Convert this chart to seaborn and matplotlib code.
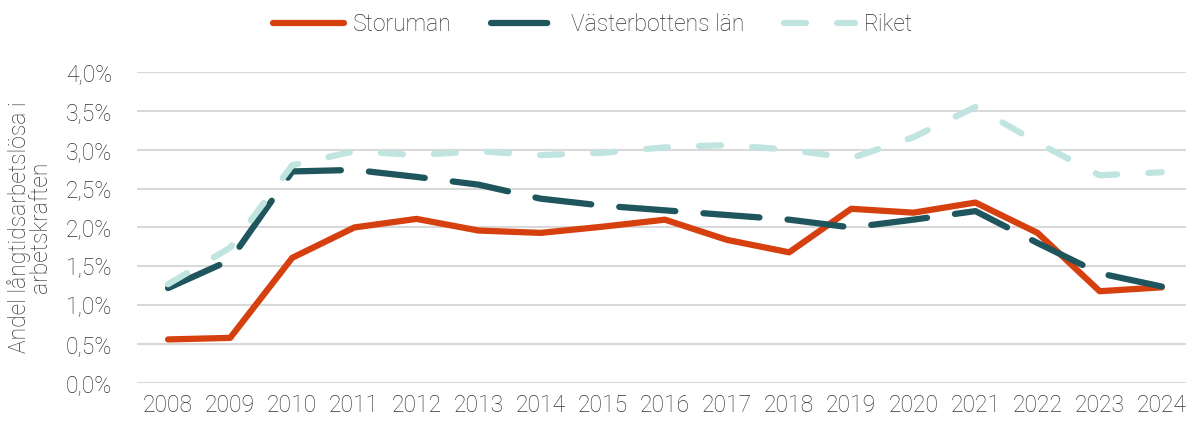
import pandas as pd
import seaborn as sns
import matplotlib.pyplot as plt
from matplotlib.ticker import FuncFormatter

# Values (percent)
years = list(range(2008, 2025))
storuman = [0.56, 0.58, 1.61, 2.00, 2.11, 1.96, 1.93, 2.01, 2.10, 1.84, 1.68, 2.24, 2.19, 2.32, 1.93, 1.18, 1.23]
vasterbotten = [1.22, 1.58, 2.72, 2.74, 2.65, 2.55, 2.37, 2.28, 2.22, 2.16, 2.10, 2.00, 2.10, 2.21, 1.80, 1.41, 1.24]
riket = [1.27, 1.74, 2.80, 2.98, 2.93, 2.98, 2.93, 2.96, 3.03, 3.06, 3.00, 2.89, 3.16, 3.55, 3.09, 2.67, 2.71]

series_names = ["Storuman", "Västerbottens län", "Riket"]
colors = ["#d6400e", "#1f555c", "#c0e4df"]

df = pd.DataFrame({
    "År": years * 3,
    "Andel": storuman + vasterbotten + riket,
    "Område": [n for n in series_names for _ in years],
})

sns.set_style("white")
plt.rcParams["font.family"] = ["Roboto", "DejaVu Sans"]
text_col = "#333333"
fs = 16.5

fig = plt.figure(figsize=(11.86, 4.23), dpi=100)
ax = fig.add_axes([0.1155, 0.0946, 0.8845, 0.7354])

sns.lineplot(
    data=df, x="År", y="Andel", hue="Område", style="Område",
    hue_order=series_names, style_order=series_names,
    palette=dict(zip(series_names, colors)),
    dashes={"Storuman": "", "Västerbottens län": (9, 4.5), "Riket": (3.5, 5)},
    linewidth=4.5, dash_capstyle="round", solid_capstyle="round",
    ax=ax, legend=True,
)

ax.set_xlim(2007.5, 2024.39)
ax.set_ylim(0, 4.0)
ax.set_yticks([i * 0.5 for i in range(9)])
ax.set_xticks(years)
ax.yaxis.set_major_formatter(FuncFormatter(lambda v, p: f"{v:.1f}%".replace(".", ",")))
ax.grid(axis="y", color="#d9d9d9", linewidth=1.5)
ax.set_axisbelow(True)
for s in ax.spines.values():
    s.set_visible(False)
ax.tick_params(axis="both", labelsize=fs, colors=text_col, length=0)
ax.tick_params(axis="y", pad=18)
ax.tick_params(axis="x", pad=8)
for lab in ax.get_xticklabels() + ax.get_yticklabels():
    lab.set_fontweight("light")

ax.set_xlabel("")
ax.set_ylabel("Andel långtidsarbetslösa i\narbetskraften", fontsize=fs, color=text_col,
              fontweight="light", labelpad=10, linespacing=0.85)

handles, labels = ax.get_legend_handles_labels()
ax.legend_.remove()
leg = fig.legend(handles, labels, loc="center", bbox_to_anchor=(0.5, 0.943), ncol=3,
                 frameon=False, fontsize=fs, handlelength=3.1, columnspacing=1.7,
                 handletextpad=0.4)
for t in leg.get_texts():
    t.set_color(text_col)
    t.set_fontweight("light")

plt.savefig("out.png", dpi=100)
